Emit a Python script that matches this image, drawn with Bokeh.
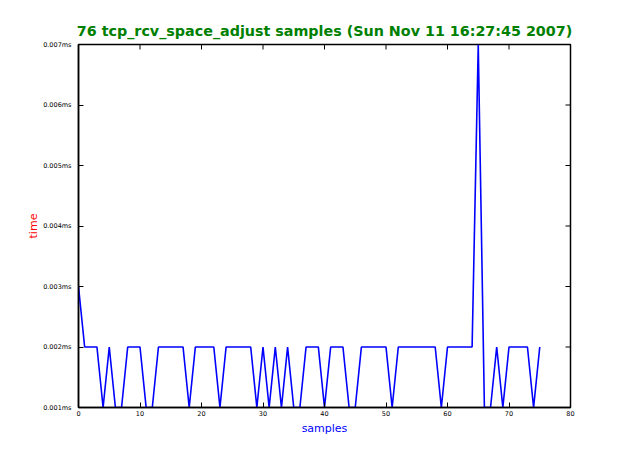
import math
from bokeh.plotting import figure
from bokeh.models import PrintfTickFormatter, FixedTicker, Range1d
from bokeh.embed import file_html
from bokeh.resources import INLINE

title_text = "76 tcp_rcv_space_adjust samples (Sun Nov 11 16:27:45 2007)"
samples = list(range(76))
times_ms = [0.003, 0.002, 0.002, 0.002, 0.001, 0.002, 0.001, 0.001, 0.002, 0.002,
            0.002, 0.001, 0.001, 0.002, 0.002, 0.002, 0.002, 0.002, 0.001, 0.002,
            0.002, 0.002, 0.002, 0.001, 0.002, 0.002, 0.002, 0.002, 0.002, 0.001,
            0.002, 0.001, 0.002, 0.001, 0.002, 0.001, 0.001, 0.002, 0.002, 0.002,
            0.001, 0.002, 0.002, 0.002, 0.001, 0.001, 0.002, 0.002, 0.002, 0.002,
            0.002, 0.001, 0.002, 0.002, 0.002, 0.002, 0.002, 0.002, 0.002, 0.001,
            0.002, 0.002, 0.002, 0.002, 0.002, 0.007, 0.001, 0.001, 0.002, 0.001,
            0.002, 0.002, 0.002, 0.002, 0.001, 0.002]
x_ticks = [0, 10, 20, 30, 40, 50, 60, 70, 80]
y_ticks = [0.001, 0.002, 0.003, 0.004, 0.005, 0.006, 0.007]
x_min, x_max = 0, 80
y_min, y_max = 0.001, 0.007

p = figure(width=625, height=445, output_backend="svg", toolbar_location=None,
           x_range=Range1d(x_min, x_max), y_range=Range1d(y_min, y_max),
           min_border_left=78, min_border_right=55, min_border_top=44, min_border_bottom=38,
           x_axis_label="samples", y_axis_label="time")
p.title.text = title_text
p.title.text_color = "green"
p.title.text_font = "DejaVu Sans"
p.title.text_font_style = "bold"
p.title.text_font_size = "14.3px"
p.title.align = "center"
p.title.standoff = 12

p.line(samples, times_ms, line_color="blue", line_width=1.6)

# mirrored inward ticks on the right and top edges
p.ray(x=[x_max] * len(y_ticks), y=y_ticks, length=5, angle=math.pi,
      length_units="screen", line_color="black", line_width=1)
p.ray(x=x_ticks, y=[y_max] * len(x_ticks), length=5, angle=-math.pi / 2,
      length_units="screen", line_color="black", line_width=1)

p.grid.visible = False
p.outline_line_color = "black"
p.outline_line_width = 1.5
p.outline_line_alpha = 1.0
p.background_fill_color = "white"
p.border_fill_color = "white"

def style(ax):
    ax.major_tick_in = 5
    ax.major_tick_out = 0
    ax.minor_tick_in = 0
    ax.minor_tick_out = 0
    ax.axis_line_color = "black"
    ax.axis_line_width = 1.5
    ax.major_tick_line_color = "black"
    ax.major_label_text_color = "black"
    ax.major_label_text_font = "DejaVu Sans"
    ax.major_label_text_font_size = "6.5px"
    ax.axis_label_text_font = "DejaVu Sans"
    ax.axis_label_text_font_style = "normal"
    ax.axis_label_text_font_size = "11px"

xa = p.xaxis[0]
xa.ticker = FixedTicker(ticks=x_ticks)
style(xa)
xa.major_label_standoff = 3
xa.axis_label_text_color = "blue"
xa.axis_label_standoff = 3

ya = p.yaxis[0]
ya.ticker = FixedTicker(ticks=y_ticks)
ya.formatter = PrintfTickFormatter(format="%.3fms")
style(ya)
ya.major_label_standoff = 7
ya.axis_label_text_color = "red"
ya.axis_label_standoff = 0

open("out.html", "w").write(file_html(p, INLINE))
